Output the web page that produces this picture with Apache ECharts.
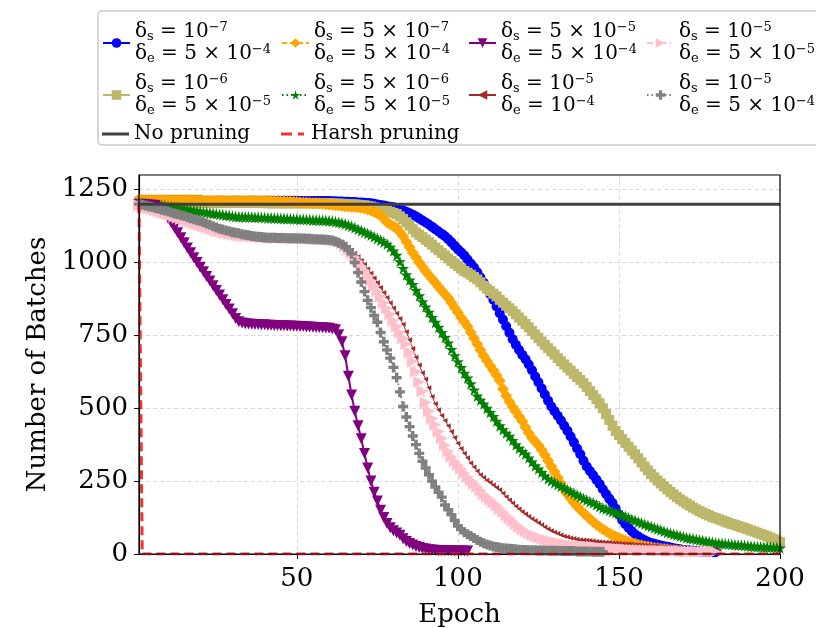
<!DOCTYPE html>
<html lang="en">
<head>
<meta charset="UTF-8">
<title>Number of batches per epoch</title>
<style>
  html, body { margin: 0; padding: 0; background: #fff; }
  #main { width: 816px; height: 628px; }
</style>
</head>
<body>
<div id="main"></div>
<script src="https://cdn.jsdelivr.net/npm/echarts@6/dist/echarts.min.js"></script>
<script>
// one value per epoch, starting at epoch 1
var blue = [
  1213,1213,1213,1213,1213,1213,1213,1213,1213,1213,
  1213,1213,1213,1213,1213,1213,1213,1213,1213,1213,
  1212,1212,1212,1212,1212,1212,1212,1212,1212,1212,
  1212,1212,1212,1212,1212,1212,1212,1212,1212,1212,
  1212,1212,1212,1212,1212,1212,1212,1212,1212,1212,
  1211,1211,1211,1211,1211,1211,1211,1211,1211,1211,
  1210,1210,1209,1209,1208,1208,1207,1207,1206,1206,
  1205,1204,1203,1201,1199,1197,1195,1193,1191,1189,
  1187,1183,1178,1174,1169,1164,1158,1151,1144,1137,
  1130,1122,1114,1106,1098,1090,1080,1069,1057,1045,
  1035,1024,1010,996,983,966,948,930,911,892,
  872,849,826,804,781,759,737,718,700,683,
  668,650,630,609,589,568,547,526,506,490,
  474,458,440,423,403,383,362,342,320,300,
  285,270,255,240,222,206,190,175,155,135,
  117,102,90,78,68,60,53,47,42,38,
  35,32,29,27,25,22,20,18,16,14,
  13,12,11,10,9,8,7,7,6,6
];
var khaki = [
  1206,1205,1205,1205,1205,1205,1205,1205,1205,1205,
  1204,1204,1204,1204,1204,1204,1204,1204,1204,1204,
  1204,1204,1204,1204,1204,1204,1204,1204,1204,1204,
  1204,1204,1204,1204,1204,1204,1204,1204,1204,1204,
  1203,1203,1203,1203,1203,1203,1203,1203,1203,1203,
  1203,1203,1203,1203,1203,1203,1203,1203,1203,1203,
  1203,1202,1202,1201,1201,1200,1200,1199,1198,1197,
  1196,1194,1192,1189,1186,1183,1180,1177,1174,1170,
  1166,1158,1149,1138,1127,1114,1103,1095,1087,1078,
  1070,1061,1051,1042,1033,1024,1014,1005,996,988,
  979,971,965,958,950,942,932,920,910,902,
  893,884,872,862,852,843,833,822,811,800,
  789,777,765,753,741,729,717,706,695,684,
  672,661,650,639,629,618,607,597,586,573,
  559,545,531,517,500,480,460,440,422,408,
  394,381,368,355,342,328,314,300,287,274,
  263,252,242,232,222,213,204,195,187,180,
  173,166,159,153,147,142,137,132,127,123,
  119,115,111,107,103,100,96,92,89,85,
  81,77,73,69,65,61,56,51,46,41
];
var orange = [
  1216,1215,1214,1214,1214,1214,1214,1214,1214,1214,
  1214,1214,1214,1214,1214,1214,1214,1214,1214,1214,
  1212,1212,1212,1212,1212,1212,1212,1212,1212,1212,
  1212,1212,1212,1212,1212,1212,1212,1212,1212,1212,
  1211,1211,1210,1210,1209,1209,1208,1208,1207,1207,
  1206,1205,1205,1204,1203,1203,1202,1201,1200,1199,
  1198,1196,1195,1194,1193,1192,1191,1190,1189,1188,
  1186,1182,1178,1173,1168,1162,1150,1138,1130,1124,
  1118,1104,1090,1071,1052,1033,1017,1000,985,970,
  956,943,930,917,904,891,878,862,845,828,
  811,797,780,760,740,720,700,680,663,646,
  630,612,594,566,543,522,504,488,472,455,
  435,415,398,386,373,357,340,320,300,282,
  262,243,222,205,190,176,163,152,141,130,
  120,110,101,93,85,78,71,65,59,55,
  50,46,42,38,35,32,29,27,25,23,
  21,20,18,17,16,14,13,12,11,10
];
var green = [
  1205,1204,1203,1202,1200,1199,1198,1196,1195,1193,
  1191,1189,1188,1186,1184,1182,1180,1178,1177,1175,
  1173,1172,1170,1168,1167,1165,1164,1162,1161,1159,
  1158,1157,1157,1156,1156,1156,1155,1155,1154,1154,
  1153,1153,1152,1152,1151,1151,1150,1150,1149,1149,
  1148,1148,1147,1147,1146,1146,1145,1145,1144,1143,
  1142,1140,1138,1135,1132,1128,1124,1119,1114,1109,
  1104,1099,1094,1088,1082,1076,1070,1063,1053,1040,
  1025,1003,980,958,940,925,905,886,866,848,
  830,812,795,778,760,743,724,702,680,660,
  640,620,604,584,563,542,528,515,500,486,
  472,456,440,427,415,404,390,375,363,352,
  343,330,316,303,292,280,268,258,251,244,
  238,232,226,220,214,208,202,196,190,185,
  180,176,169,163,158,154,150,146,142,138,
  134,129,124,119,115,110,106,102,98,94,
  90,86,82,78,74,71,68,65,62,59,
  56,54,52,50,48,46,44,42,40,38,
  37,36,35,34,33,32,31,30,29,28,
  27,26,25,25,24,24,23,22,22,21
];
var purple = [
  1200,1199,1198,1197,1196,1195,1188,1178,1166,1152,
  1136,1119,1102,1085,1068,1050,1033,1016,1000,984,
  968,952,936,920,904,888,872,856,840,824,
  808,797,792,790,789,788,787,787,786,786,
  785,785,784,784,783,783,782,782,781,781,
  780,780,779,779,778,777,777,776,775,774,
  772,769,752,728,680,610,545,490,440,395,
  345,295,250,212,182,150,125,105,90,80,
  72,64,52,43,36,31,26,22,19,17,
  15,14,13,12,12,11,11,11,10,10,
  10,10,10
];
var brown = [
  1199,1196,1193,1190,1187,1184,1181,1178,1175,1172,
  1168,1165,1161,1157,1153,1150,1146,1143,1140,1137,
  1133,1129,1125,1121,1117,1113,1110,1107,1104,1102,
  1100,1098,1096,1094,1092,1090,1089,1088,1087,1086,
  1086,1085,1085,1084,1084,1084,1083,1083,1083,1082,
  1082,1082,1081,1081,1080,1080,1079,1079,1078,1078,
  1078,1076,1073,1069,1062,1053,1043,1032,1020,1007,
  993,978,963,947,931,914,897,880,862,844,
  826,808,788,762,735,705,675,648,622,600,
  570,540,515,495,475,458,440,420,400,380,
  362,346,330,312,298,285,272,262,253,245,
  237,228,220,208,196,185,175,164,154,145,
  137,129,121,114,107,100,93,86,80,75,
  70,65,61,58,55,53,51,49,48,47,
  46,45,43,42,41,40,40,39,38,37,
  36,35,35,34,33,33,32,31,30,29,
  28,28,27,26,25,24,24,23,22,21,
  20,19,18,18,17,16,15,14,13,12,
  11
];
var pink = [
  1196,1192,1189,1185,1182,1178,1175,1171,1168,1165,
  1161,1157,1153,1149,1145,1142,1138,1134,1131,1128,
  1124,1120,1116,1112,1108,1105,1102,1100,1098,1096,
  1094,1092,1091,1090,1089,1088,1087,1087,1086,1086,
  1085,1085,1084,1084,1084,1083,1083,1083,1082,1082,
  1082,1081,1081,1081,1080,1080,1079,1079,1078,1077,
  1076,1074,1071,1065,1055,1044,1032,1018,1003,988,
  972,955,937,919,900,882,862,842,822,800,
  780,760,740,720,690,660,625,590,558,520,
  490,465,443,420,397,373,352,334,318,305,
  292,278,264,252,241,231,218,205,195,186,
  177,166,155,144,134,123,113,102,93,85,
  78,72,66,61,57,53,49,46,43,40,
  38,36,34,32,30,29,28,27,26,25,
  24,23,22,21,20,19,19,18,18,17,
  16,16,15,15,14,14,13,13,13,12,
  12,12,11,11,11,10,10,10,10,9,
  9,9,9,9,8,8,8,8,8,8
];
var gray = [
  1200,1198,1195,1193,1190,1187,1184,1181,1178,1175,
  1171,1168,1165,1162,1159,1155,1152,1148,1145,1142,
  1138,1134,1129,1124,1120,1116,1113,1110,1107,1104,
  1102,1100,1097,1095,1093,1091,1089,1088,1087,1086,
  1085,1085,1085,1084,1084,1084,1083,1083,1083,1082,
  1082,1082,1081,1081,1080,1080,1079,1079,1078,1077,
  1075,1072,1068,1062,1054,1043,1030,1000,965,933,
  900,870,845,818,795,760,728,700,672,640,
  605,556,506,470,437,405,375,345,318,295,
  272,250,230,212,195,168,152,135,115,96,
  84,75,68,62,55,48,42,37,33,29,
  26,24,22,20,19,18,17,16,15,14,
  14,13,13,13,12,12,12,11,11,11,
  11,10,10,10,10,10,9,9,9,9,
  9,8,8,8,8
];
var noPruningEpochs = [1, 200];
var noPruning = [1200, 1200];
var harshEpochs = [1, 2, 200];
var harsh = [1200, 0, 0];

var xTicks = [50, 100, 150, 200];
var yTicks = [0, 250, 500, 750, 1000, 1250];

// delta_s / delta_e labels: [mantissa, exponent]
var deltaS = [['', '−7'], ['', '−6'], ['5', '−7'], ['5', '−6'], ['5', '−5'], ['', '−5'], ['', '−5'], ['', '−5']];
var deltaE = [['5', '−4'], ['5', '−5'], ['5', '−4'], ['5', '−5'], ['5', '−4'], ['', '−4'], ['5', '−5'], ['5', '−4']];

var serif = 'DejaVu Serif';

function pairs(values, epochs) {
    return values.map(function (v, i) {
        return [epochs ? epochs[i] : i + 1, v];
    });
}

function deltaLine(sub, part) {
    return '{t|δ}{sb|' + sub + '}{t| = ' + (part[0] ? part[0] + ' × ' : '') + '10}{sp|' + part[1] + '}';
}

var star = 'path://M50,0 L61,35 L98,35 L68,57 L79,91 L50,70 L21,91 L32,57 L2,35 L39,35 Z';
var plus = 'path://M33,0 H67 V33 H100 V67 H67 V100 H33 V67 H0 V33 H33 Z';
// plain legend keys for the two marker-less lines
var solidKey = 'path://M0,0 H27 V3 H0 Z';
var dashKey = 'path://M0,0 H11 V3 H0 Z M17,0 H23 V3 H17 Z';

// plot order (later on top); the two reference lines get a higher z
var defs = [
    {key: 'd0', data: pairs(blue), color: '#0000ff', symbol: 'circle', size: 10, type: 'solid', label: 0},
    {key: 'd1', data: pairs(khaki), color: '#bdb76b', symbol: 'rect', size: 10, type: 'solid', label: 1},
    {key: 'No pruning', data: pairs(noPruning, noPruningEpochs), color: '#3f3f3f', symbol: 'none', size: 0, type: 'solid', width: 3, z: 3, icon: solidKey},
    {key: 'd2', data: pairs(orange), color: '#ffa500', symbol: 'diamond', size: 12, type: [5, 3], label: 2},
    {key: 'd3', data: pairs(green), color: '#008000', symbol: star, size: 12, type: [1.5, 3], label: 3},
    {key: 'Harsh pruning', data: pairs(harsh, harshEpochs), color: '#ee3333', symbol: 'none', size: 0, type: [9, 5], width: 3, z: 3, icon: dashKey},
    {key: 'd4', data: pairs(purple), color: '#800080', symbol: 'triangle', rotate: 180, size: 11, type: 'solid', label: 4},
    {key: 'd5', data: pairs(brown), color: '#a52a2a', symbol: 'triangle', rotate: 90, size: 5, type: 'solid', width: 1, label: 5},
    {key: 'd6', data: pairs(pink), color: '#ffc0cb', symbol: 'triangle', rotate: -90, size: 12, type: [6, 3, 1.5, 3], label: 6},
    {key: 'd7', data: pairs(gray), color: '#808080', symbol: plus, size: 10, type: [1.5, 3], label: 7}
];

// legend item placement (left, top), same order as defs
var legendPos = [[102, 21], [102, 73], [102, 123], [281, 21], [281, 73], [281, 123], [468, 21], [468, 73], [646, 21], [646, 73]];

var rich = {
    t: {fontFamily: serif, fontSize: 20, lineHeight: 22, color: '#000'},
    sb: {fontFamily: serif, fontSize: 13, lineHeight: 14, verticalAlign: 'bottom', color: '#000'},
    sp: {fontFamily: serif, fontSize: 13, lineHeight: 10, verticalAlign: 'top', color: '#000'}
};

var series = defs.map(function (d) {
    return {
        name: d.key,
        type: 'line',
        z: d.z || 2,
        data: d.data,
        symbol: d.symbol,
        symbolSize: d.size,
        symbolRotate: d.rotate || 0,
        showSymbol: d.symbol !== 'none',
        color: d.color,
        lineStyle: {color: d.color, width: d.width || 2, type: d.type},
        itemStyle: {color: d.color},
        animation: false,
        emphasis: {disabled: true}
    };
});

var legends = defs.map(function (d, i) {
    var item = d.icon ? {name: d.key, icon: d.icon, itemStyle: {color: d.color}} : d.key;
    return {
        data: [item],
        left: legendPos[i][0],
        top: legendPos[i][1],
        padding: 0,
        itemWidth: 27,
        itemHeight: d.icon ? 3 : 12,
        itemGap: 0,
        selectedMode: false,
        textStyle: {fontFamily: serif, fontSize: 20, lineHeight: 22, color: '#000', rich: rich},
        formatter: function (name) {
            if (d.label === undefined) return name;
            return deltaLine('s', deltaS[d.label]) + '\n' + deltaLine('e', deltaE[d.label]);
        }
    };
});

var chart = echarts.init(document.getElementById('main'));
chart.setOption({
    backgroundColor: '#fff',
    animation: false,
    graphic: [{
        type: 'rect',
        z: 0,
        shape: {x: 98, y: 11, width: 760, height: 134, r: 4},
        style: {fill: '#fff', stroke: '#cccccc', lineWidth: 1.5}
    }, {
        // plot frame drawn over the grid lines
        type: 'rect',
        z: 100,
        silent: true,
        shape: {x: 139, y: 175, width: 641, height: 379},
        style: {fill: 'none', stroke: '#000', lineWidth: 1.2}
    }],
    legend: legends,
    grid: {
        left: 139, right: 36, top: 175, bottom: 74,
        outerBoundsMode: 'none'
    },
    xAxis: {
        type: 'value',
        min: 1,
        max: 200,
        name: 'Epoch',
        nameLocation: 'middle',
        nameGap: 48,
        nameTextStyle: {fontFamily: serif, fontSize: 26, color: '#000'},
        axisLine: {lineStyle: {color: '#000', width: 1.2}},
        axisTick: {show: true, length: 5, customValues: xTicks, lineStyle: {color: '#000'}},
        axisLabel: {customValues: xTicks, margin: 12, fontFamily: serif, fontSize: 26, color: '#000'},
        splitLine: {show: true, lineStyle: {color: '#cfcfcf', type: [4, 3], width: 0.8}}
    },
    yAxis: {
        type: 'value',
        min: 0,
        max: 1300,
        name: 'Number of Batches',
        nameLocation: 'middle',
        nameGap: 80,
        nameTextStyle: {fontFamily: serif, fontSize: 26, color: '#000'},
        axisLine: {show: true, lineStyle: {color: '#000', width: 1.2}},
        axisTick: {show: true, length: 5, customValues: yTicks, lineStyle: {color: '#000'}},
        axisLabel: {
            customValues: yTicks, margin: 11, fontFamily: serif, fontSize: 26, color: '#000',
            formatter: function (v) { return String(v); }
        },
        splitLine: {show: true, lineStyle: {color: '#cfcfcf', type: [4, 3], width: 0.8}}
    },
    series: series
});
</script>
</body>
</html>
